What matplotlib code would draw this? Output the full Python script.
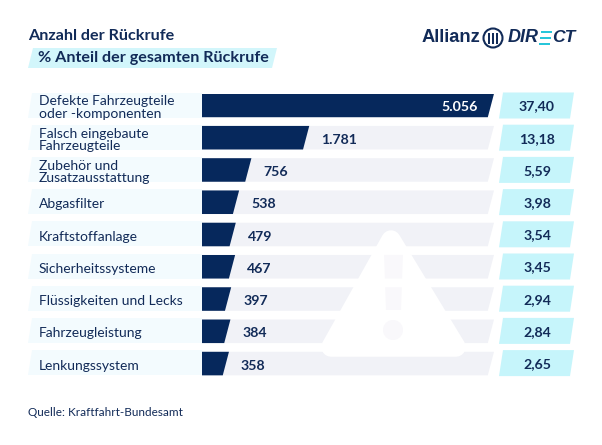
import matplotlib
matplotlib.use('Agg')
import matplotlib.pyplot as plt
from matplotlib.patches import Polygon, Circle, Rectangle
from matplotlib.transforms import blended_transform_factory

plt.rcParams['font.family'] = ['Lato', 'DejaVu Sans']

# Daten
kategorien = ['Defekte Fahrzeugteile\noder -komponenten', 'Falsch eingebaute\nFahrzeugteile',
              'Zubehör und\nZusatzausstattung', 'Abgasfilter', 'Kraftstoffanlage',
              'Sicherheitssysteme', 'Flüssigkeiten und Lecks', 'Fahrzeugleistung', 'Lenkungssystem']
rueckrufe = [5056, 1781, 756, 538, 479, 467, 397, 384, 358]
rueckrufe_text = ['5.056', '1.781', '756', '538', '479', '467', '397', '384', '358']
anteil_text = ['37,40', '13,18', '5,59', '3,98', '3,54', '3,45', '2,94', '2,84', '2,65']

NAVY = '#06285c'
TEXT = '#122b58'
CYAN = '#c6f5fb'
GRAU = '#f1f2f7'
HELL = '#f3fbfe'
RUFZ = '#f9f8fb'

B, H = 602, 445
fig = plt.figure(figsize=(B / 100, H / 100), dpi=100)

# Hintergrund-Achse in Pixeln
bg = fig.add_axes([0, 0, 1, 1])
bg.set_xlim(0, B)
bg.set_ylim(H, 0)
bg.axis('off')

# Balken-Achse
oben, unten = 93.5, 375.5
ax = fig.add_axes([202 / B, 1 - unten / H, (494 - 202) / B, (unten - oben) / H])
ax.set_xlim(-120, 5056)
ax.set_ylim(8.37, -0.37)
ax.axis('off')

schraege = 110
halb = 0.365
mischung = blended_transform_factory(bg.transData, ax.transData)
text_dy = -2  # Text sitzt etwas unter der Balkenmitte


def balken_form(wert, i):
    return [(-120, i - halb), (wert, i - halb), (wert - schraege, i + halb), (-120, i + halb)]


for i in range(len(kategorien)):
    # helles Band links
    y0 = 92.5 + 32.2 * i
    bg.add_patch(Polygon([(32, y0), (202, y0), (202, y0 + 25), (28, y0 + 25)], closed=True, fc=HELL, ec='none'))
    # grauer Hintergrund des Balkens
    ax.add_patch(Polygon(balken_form(5056, i), closed=True, fc=GRAU, ec='none', zorder=1))
    # Prozent-Feld
    bg.add_patch(Polygon([(503, y0), (574, y0), (570, y0 + 26), (499, y0 + 26)], closed=True, fc=CYAN, ec='none'))
    bg.text(537, y0 + 14, anteil_text[i], ha='center', va='center', fontsize=10.2, fontweight='bold', color=TEXT)

# Warndreieck und Ausrufezeichen im Hintergrund
ax.add_patch(Polygon([(391, 240), (331, 347), (456, 347)], closed=True, fc='white', ec='white',
                     lw=14, joinstyle='round', zorder=2, transform=bg.transData, clip_on=False))
rufz = Polygon([(384, 253), (403, 253), (401, 310), (386, 310)], closed=True, transform=bg.transData)
punkt = Circle((393, 330), 10, transform=bg.transData)
for i in range(len(kategorien)):
    for form in (rufz, punkt):
        t = Polygon(balken_form(5056, i), closed=True, fc=RUFZ, ec='none', zorder=3)
        ax.add_patch(t)
        t.set_clip_path(form)

# Balken und Beschriftung
for i, wert in enumerate(rueckrufe):
    ax.add_patch(Polygon(balken_form(wert, i), closed=True, fc=NAVY, ec='none', zorder=4))
    ax.annotate(kategorien[i], (39, i), xycoords=mischung, xytext=(0, text_dy), textcoords='offset pixels',
                ha='left', va='center', fontsize=10, color=TEXT, linespacing=1.02, zorder=5, annotation_clip=False)
    if wert > 3000:
        ax.annotate(rueckrufe_text[i], (wert, i), xytext=(-16, text_dy), textcoords='offset pixels', ha='right', va='center',
                    fontsize=10.2, fontweight='bold', color='white', zorder=5)
    else:
        ax.annotate(rueckrufe_text[i], (wert, i), xytext=(12, text_dy), textcoords='offset pixels', ha='left', va='center',
                    fontsize=10.2, fontweight='bold', color=TEXT, zorder=5, annotation_clip=False)

# Titel
bg.text(28, 36, 'Anzahl der Rückrufe', ha='left', va='center', fontsize=11.6, fontweight='bold', color=TEXT)
bg.add_patch(Polygon([(33, 48), (277, 48), (272, 68), (28, 68)], closed=True, fc='#d2f6fb', ec='none'))
bg.text(38, 58, '% Anteil der gesamten Rückrufe', ha='left', va='center', fontsize=11.6, fontweight='bold', color=TEXT)

# Logo
LOGO = 'Liberation Sans'
bg.text(422, 37.5, 'Allianz', ha='left', va='center', fontsize=13.2, fontweight='bold', family=LOGO, color=TEXT)
bg.add_patch(Circle((493, 38), 9.5, fc='none', ec=TEXT, lw=1.5))
for dx in (-4, 0, 4):
    bg.add_patch(Rectangle((493 + dx - 1, 33), 2, 11, fc=TEXT, ec='none'))
bg.text(508, 37.5, 'DIR', ha='left', va='center', fontsize=13, fontweight='bold', style='italic', family=LOGO, color=TEXT)
for dy, x1 in ((31.5, 541), (37.5, 540), (43.5, 539)):
    bg.add_patch(Rectangle((x1, dy - 1), 11, 2.2, fc='#27c6da', ec='none'))
bg.text(552, 37.5, 'CT', ha='left', va='center', fontsize=12.6, fontweight='bold', style='italic', family=LOGO, color=TEXT)

# Quelle
bg.text(28, 412, 'Quelle: Kraftfahrt-Bundesamt', ha='left', va='center', fontsize=8.5, color=TEXT)

fig.savefig('out.png', dpi=100)
